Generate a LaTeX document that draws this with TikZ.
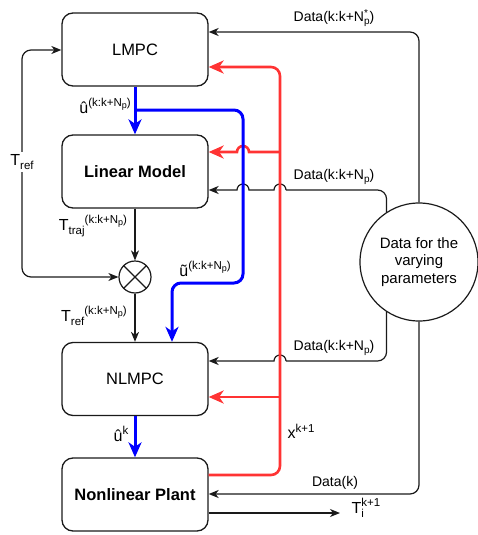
\documentclass[tikz,border=0pt]{standalone}
\usepackage{fontspec}
\setmainfont{Liberation Sans}
\usetikzlibrary{arrows.meta,calc}
\definecolor{myred}{HTML}{FF3333}
\definecolor{myblue}{HTML}{0000FF}
\definecolor{myline}{HTML}{1A1A1A}
\newcommand{\myhi}[1]{\raisebox{0.75ex}{\fontsize{11.5}{12}\selectfont #1}}
\newcommand{\mylo}[1]{\raisebox{-0.5ex}{\fontsize{11.5}{12}\selectfont #1}}
\newcommand{\mypp}{\raisebox{-0.3ex}{\fontsize{9}{9}\selectfont p}}
\newcommand{\dpp}{\raisebox{-0.45ex}{\fontsize{10}{10}\selectfont p}}
\begin{document}
\begin{tikzpicture}[x=1pt,y=1pt,
  box/.style={draw=myline, line width=1.3pt, rounded corners=11pt, minimum width=146pt, minimum height=73pt, inner sep=0pt},
  boxfont/.style={font=\fontsize{16.5}{20}\selectfont},
  boxbold/.style={font=\bfseries\fontsize{16.5}{20}\selectfont},
  conn/.style={draw=myline, line width=1.2pt},
  blk/.style={-{Stealth[length=10pt,width=8pt,inset=3pt]}},
  bl/.style={draw=myblue, line width=3pt},
  rd/.style={draw=myred, line width=2.6pt},
  bigtip/.style={-{Stealth[length=15pt,width=13pt,inset=4.5pt]}},
  lab/.style={font=\fontsize{16}{18}\selectfont, inner sep=1pt},
  dlab/.style={font=\fontsize{14}{16}\selectfont, inner sep=1pt},
]
\useasboundingbox (0,0) rectangle (478,-535);
% nodes
\node[box,boxfont] (lmpc) at (135,-49.5) {LMPC};
\node[box,boxbold] (lm) at (135,-171.5) {Linear Model};
\node[box,boxfont] (nlmpc) at (135,-379) {NLMPC};
\node[box,boxbold] (plant) at (135,-494.5) {Nonlinear Plant};
\node[draw=myline, line width=1.2pt, circle, minimum size=32pt, inner sep=0pt] (sum) at (135,-277) {};
\draw[conn] (sum.north west) -- (sum.south east) (sum.north east) -- (sum.south west);
\node[draw=myline, line width=1.2pt, circle, minimum size=118pt, inner sep=0pt, align=center, font=\fontsize{15}{17.5}\selectfont] (data) at (419,-262) {Data for the\\varying\\parameters};

% black connectors
\draw[conn,blk] (lm.south) -- (sum.north);
\draw[conn,blk] (sum.south) -- (nlmpc.north);
\draw[conn,{Stealth[length=10pt,width=8pt,inset=3pt]}-{Stealth[length=10pt,width=8pt,inset=3pt]},rounded corners=9pt] (sum.west) -| (22,-50) -- (lmpc.west |- 0,-50);
\node[lab,fill=white,inner sep=2pt] (tref) at (22,-162) {T\mylo{ref}};
\draw[conn,blk,rounded corners=9pt] (data.north) |- (lmpc.east |- 0,-32);
\draw[conn,blk,rounded corners=9pt] (data.south) |- (plant.east |- 0,-494);
\draw[conn,rounded corners=9pt] (data.123) |- (286,-190) coordinate (h1);
\draw[conn,blk] (h1) arc[start angle=0,end angle=180,radius=6] -- (249,-190) arc[start angle=0,end angle=180,radius=6] -- (lm.east |- 0,-190);
\draw[conn,rounded corners=9pt] (data.237) |- (286,-361) coordinate (h2);
\draw[conn,blk] (h2) arc[start angle=0,end angle=180,radius=6] -- (nlmpc.east |- 0,-361);
\draw[conn,blk] (plant.east |- 0,-513) -- (340,-513) coordinate (tout);

% red connectors
\draw[rd,bigtip,rounded corners=9pt] (plant.east |- 0,-475) -| (280,-67) -- (lmpc.east |- 0,-67);
\draw[rd,bigtip] (280,-397) -- (nlmpc.east |- 0,-397);
\draw[rd,bigtip] (280,-152) -- (249,-152) arc[start angle=0,end angle=180,radius=6] -- (lm.east |- 0,-152);

% blue connectors
\draw[bl,bigtip] (lmpc.south) -- (lm.north);
\coordinate (split) at (135,-110);
\draw[bl,bigtip,rounded corners=9pt] (split) -| (243,-283) -| (nlmpc.north -| 172,0);
\draw[bl,bigtip] (nlmpc.south) -- (plant.north);

% labels
\node[lab] (l1) at (105,-106) {û\myhi{(k:k+N\mypp)}};
\node[lab] (l2) at (93,-226) {T\mylo{traj}\myhi{(k:k+N\mypp)}};
\node[lab] (l3) at (205,-269) {ũ\myhi{(k:k+N\mypp)}};
\node[lab] (l4) at (94,-316) {T\mylo{ref}\myhi{(k:k+N\mypp)}};
\node[lab] (l5) at (121,-434) {û\myhi{k}};
\node[lab] (l6) at (301,-431) {x\myhi{k+1}};
\node[lab] (l7) at (366,-508) {T\rlap{\mylo{i}}\myhi{k+1}};
\node[dlab] (d1) at (334,-18) {Data(k:k+N\rlap{\raisebox{0.7ex}{\fontsize{10}{10}\selectfont *}}\dpp)};
\node[dlab] (d2) at (334,-177) {Data(k:k+N\dpp)};
\node[dlab] (d3) at (334,-348) {Data(k:k+N\dpp)};
\node[dlab] (d4) at (335,-483) {Data(k)};
\end{tikzpicture}
\end{document}
